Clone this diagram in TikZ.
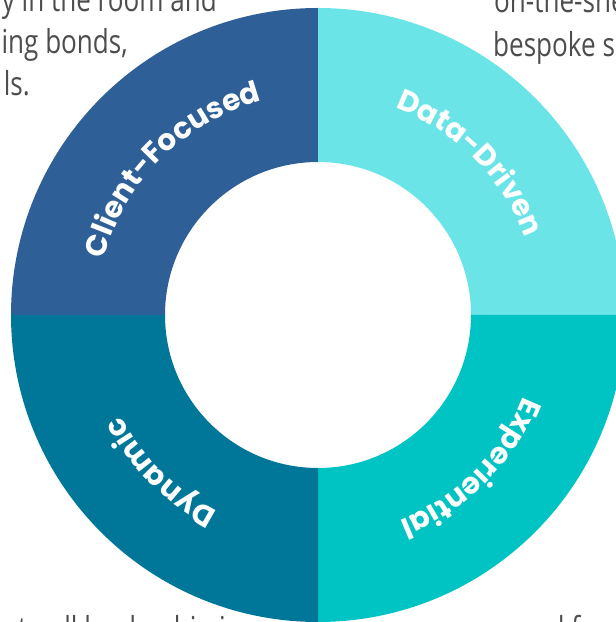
\documentclass[tikz,border=0pt]{standalone}
\usepackage{fontspec}
\usetikzlibrary{decorations.text,calc}
\newfontfamily\labfont{Poppins}
\newfontfamily\grayfont{Open Sans}[FakeStretch=0.79]
\definecolor{cfocus}{HTML}{2F5F97}
\definecolor{cdata}{HTML}{6BE4E8}
\definecolor{cexp}{HTML}{00C3C3}
\definecolor{cdyn}{HTML}{007799}
\definecolor{cgray}{HTML}{4D4D4D}
\tikzset{
  bgtext/.style={font=\grayfont\fontsize{33}{33}\selectfont, text=cgray, inner sep=0pt},
  ringlabel/.style={decorate, decoration={text along path, text align=center, text color=white,
     text={|\labfont\bfseries\fontsize{29.5}{29.5}\selectfont|#1}}}
}
\begin{document}
\begin{tikzpicture}[x=1pt,y=1pt]
\useasboundingbox (0,0) rectangle (616,622);
\clip (0,0) rectangle (616,622);
\coordinate (c) at (318,307);
\def\Ro{307}
\def\Ri{153}
\def\Rt{221}
% quadrants
\fill[cfocus] ($(c)+(90:\Ro)$) arc[start angle=90, end angle=180, radius=\Ro] -- ($(c)+(180:\Ri)$) arc[start angle=180, end angle=90, radius=\Ri] -- cycle;
\fill[cdata] ($(c)+(0:\Ro)$) arc[start angle=0, end angle=90, radius=\Ro] -- ($(c)+(90:\Ri)$) arc[start angle=90, end angle=0, radius=\Ri] -- cycle;
\fill[cexp] ($(c)+(-90:\Ro)$) arc[start angle=-90, end angle=0, radius=\Ro] -- ($(c)+(0:\Ri)$) arc[start angle=0, end angle=-90, radius=\Ri] -- cycle;
\fill[cdyn] ($(c)+(180:\Ro)$) arc[start angle=180, end angle=270, radius=\Ro] -- ($(c)+(270:\Ri)$) arc[start angle=270, end angle=180, radius=\Ri] -- cycle;
% labels along the ring
\path[ringlabel={Client-Focused}] ($(c)+(205:\Rt)$) arc[start angle=205, end angle=65, radius=\Rt];
\path[ringlabel={Data-Driven}] ($(c)+(115:\Rt)$) arc[start angle=115, end angle=-25, radius=\Rt];
\path[ringlabel={Experiential}] ($(c)+(25:\Rt)$) arc[start angle=25, end angle=-115, radius=\Rt];
\path[ringlabel={Dynamic}] ($(c)+(-65:\Rt)$) arc[start angle=-65, end angle=-205, radius=\Rt];
% cut-off surrounding text
\node[bgtext, anchor=base east] (tl1) at (217,610) {y in the room and};
\node[bgtext, anchor=base east] (tl2) at (128,568) {ing bonds,};
\node[bgtext, anchor=base east] (tl3) at (30,526) {ls.};
\node[bgtext, anchor=base west] (tr1) at (494,609) {on-the-shelf};
\node[bgtext, anchor=base west] (tr2) at (493,565) {bespoke so};
\node[bgtext, anchor=base west] (bl1) at (18,-18) {to all leadership in};
\node[bgtext, anchor=base west] (br1) at (518,-18) {and from};
\end{tikzpicture}
\end{document}
